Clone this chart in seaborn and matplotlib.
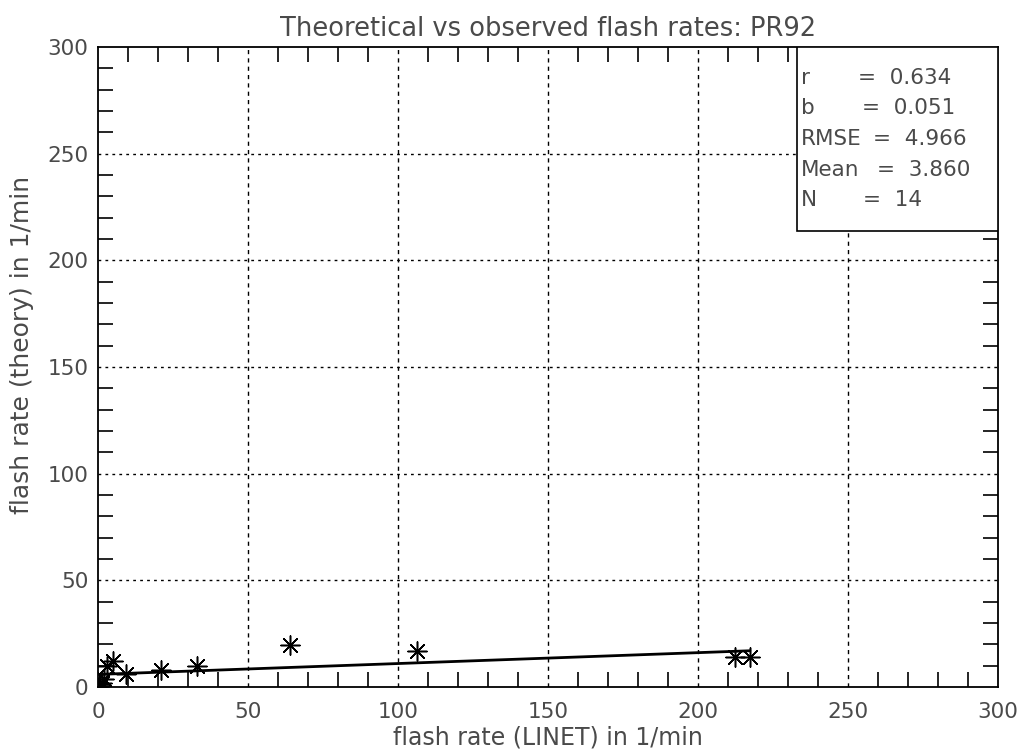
import matplotlib
matplotlib.use("Agg")
import matplotlib.pyplot as plt
from matplotlib.patches import Rectangle
from matplotlib.ticker import MultipleLocator
import seaborn as sns
import numpy as np
import pandas as pd

# ---- data ----
obs_linet = [0.2, 0.5, 0.8, 1.2, 2.1, 2.9, 5.0, 9.3, 21.1, 33.0, 64.0, 106.3, 212.3, 217.3]
theory_pr92 = [0.3, 1.2, 0.4, 2.0, 3.6, 9.8, 12.0, 5.9, 8.1, 9.9, 19.7, 16.9, 14.0, 14.0]
fit_intercept = 5.9
fit_slope = 0.051
stat_names = ["r", "b", "RMSE", "Mean", "N"]
stat_values = ["= 0.634", "= 0.051", "= 4.966", "= 3.860", "= 14"]
title = "Theoretical vs observed flash rates: PR92"
xlabel = "flash rate (LINET) in 1/min"
ylabel = "flash rate (theory) in 1/min"
major_ticks = [0, 50, 100, 150, 200, 250, 300]

sns.set_style("ticks")
plt.rcParams['font.family'] = ['DejaVu Sans']
txt_color = "#4a4a4a"

fig = plt.figure(figsize=(10.2, 7.51), dpi=100)
ax = fig.add_axes([98/1020, 1-687/751, 900/1020, 640/751])

df = pd.DataFrame({"x": obs_linet, "y": theory_pr92})
sns.scatterplot(data=df, x="x", y="y", ax=ax, marker=(8, 2, 0), s=190,
                color="black", linewidth=1.1, edgecolor="black", zorder=5, legend=False)

xl = np.array([min(obs_linet), max(obs_linet)])
line_df = pd.DataFrame({"x": xl, "y": fit_intercept + fit_slope * xl})
sns.lineplot(data=line_df, x="x", y="y", ax=ax, color="black", linewidth=2.0, zorder=4)

ax.set_xlim(0, 300)
ax.set_ylim(0, 300)
ax.set_xticks(major_ticks)
ax.set_yticks(major_ticks)
ax.xaxis.set_minor_locator(MultipleLocator(10))
ax.yaxis.set_minor_locator(MultipleLocator(10))
ax.tick_params(which="major", length=0, labelsize=15.5, labelcolor=txt_color)
ax.tick_params(axis="x", which="major", pad=11)
ax.tick_params(axis="y", which="major", pad=7)
ax.tick_params(which="minor", direction="in", length=11, width=1.2, color="black",
               top=True, right=True, bottom=True, left=True)
for g in major_ticks[1:-1]:
    ax.axvline(g, color="black", lw=1.0, ls=(0, (3, 3)), zorder=1)
    ax.axhline(g, color="black", lw=1.0, ls=(0, (2, 3)), zorder=1)
for sp in ax.spines.values():
    sp.set_color("black")
    sp.set_linewidth(1.3)
    sp.set_visible(True)

ax.set_xlabel(xlabel, fontsize=17, color=txt_color, labelpad=2)
ax.set_ylabel(ylabel, fontsize=18, color=txt_color)
ax.yaxis.set_label_coords((34 - 98)/900, (687-345)/640)
ax.set_title(title, fontsize=18.5, color=txt_color, pad=8)

# stats box
bx0, by0 = (797-98)/900, (687-231)/640
ax.add_patch(Rectangle((bx0, by0), 1-bx0, 1-by0, transform=ax.transAxes,
                       fill=True, facecolor="white", edgecolor="black", lw=1.2, zorder=6))
ys = [78, 108, 139, 170, 200]
eq_x = [858, 862, 873, 877, 863]
for name, val, yp, ex in zip(stat_names, stat_values, ys, eq_x):
    ax.text((801-98)/900, (687-yp)/640, name, transform=ax.transAxes, fontsize=15.5,
            color=txt_color, va="center", ha="left", zorder=7)
    ax.text((ex-98)/900, (687-yp)/640, val.replace("= ", "=  "), transform=ax.transAxes,
            fontsize=15.5, color=txt_color, va="center", ha="left", zorder=7)

fig.savefig("out.png", dpi=100)
